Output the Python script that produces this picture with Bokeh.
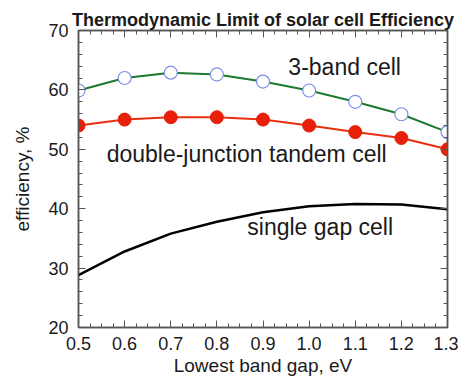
from bokeh.plotting import figure
from bokeh.models import LinearAxis, FixedTicker, PrintfTickFormatter, Range1d, Label
from bokeh.embed import file_html
from bokeh.resources import INLINE

gap = [0.5, 0.6, 0.7, 0.8, 0.9, 1.0, 1.1, 1.2, 1.3]
three_band = [59.9, 62.0, 62.9, 62.6, 61.4, 59.9, 58.0, 55.9, 52.9]
tandem = [54.0, 55.0, 55.4, 55.4, 55.0, 54.0, 52.9, 51.9, 50.0]
single = [28.8, 32.8, 35.8, 37.8, 39.4, 40.4, 40.8, 40.7, 39.9]
x_ticks = [0.5, 0.6, 0.7, 0.8, 0.9, 1.0, 1.1, 1.2, 1.3]
y_ticks = [20, 30, 40, 50, 60, 70]

FONT = "Liberation Sans"
AX = "#555555"
TXT = "#1a1a1a"

p = figure(width=458, height=378, output_backend="svg", toolbar_location=None,
           x_range=Range1d(0.5, 1.3), y_range=Range1d(20, 70),
           min_border_left=78, min_border_right=11, min_border_top=30, min_border_bottom=48)
p.grid.visible = False
p.outline_line_color = AX
p.outline_line_width = 1.5

p.title.text = "Thermodynamic Limit of solar cell Efficiency"
p.title.text_font = FONT
p.title.text_font_size = "18px"
p.title.text_font_style = "bold"
p.title.text_color = TXT
p.title.align = "center"
p.title.offset = 0
p.title.standoff = 1

def style(ax, labels=True):
    ax.axis_line_color = AX
    ax.axis_line_width = 1.5
    ax.major_tick_line_color = AX
    ax.minor_tick_line_color = AX
    ax.major_tick_in = 7
    ax.major_tick_out = 0
    ax.minor_tick_in = 4
    ax.minor_tick_out = 0
    ax.major_label_text_font = FONT
    ax.major_label_text_font_size = "18px"
    ax.major_label_text_color = TXT
    ax.axis_label_text_font = FONT
    ax.axis_label_text_font_size = "19px"
    ax.axis_label_text_font_style = "normal"
    ax.axis_label_text_color = TXT
    if not labels:
        ax.major_label_overrides = {t: "" for t in ax.ticker.ticks}
        ax.major_label_standoff = 0

xt = FixedTicker(ticks=x_ticks, minor_ticks=[0.5 + i * 0.025 for i in range(33)])
yt = FixedTicker(ticks=y_ticks, minor_ticks=[20 + i * 2 for i in range(26)])

p.xaxis.ticker = xt
p.xaxis.formatter = PrintfTickFormatter(format="%.1f")
p.xaxis.axis_label = "Lowest band gap, eV"
p.xaxis.major_label_standoff = 9
p.xaxis.axis_label_standoff = 2
p.yaxis.ticker = yt
p.yaxis.axis_label = "efficiency, %"
p.yaxis.major_label_standoff = 10
p.yaxis.axis_label_standoff = 12
style(p.xaxis[0])
style(p.yaxis[0])

top = LinearAxis(ticker=xt)
right = LinearAxis(ticker=yt)
style(top, False)
style(right, False)
p.add_layout(top, "above")
p.add_layout(right, "right")

p.line(gap, single, line_color="black", line_width=2.5)
p.line(gap, tandem, line_color="#e8300f", line_width=2)
p.scatter(gap, tandem, size=13, fill_color="#e8200a", line_color="#e8200a")
p.line(gap, three_band, line_color="#1b7a2e", line_width=2)
p.scatter(gap, three_band, size=13, fill_color="white", line_color="#7a8fe6", line_width=1.2)

for txt, x, y in [("3-band cell", 0.955, 63.9),
                  ("double-junction tandem cell", 0.561, 49.2),
                  ("single gap cell", 0.866, 37.0)]:
    p.add_layout(Label(x=x, y=y, text=txt, text_font=FONT, text_font_size="23px",
                       text_color=TXT, text_baseline="middle", text_align="left"))

open("out.html", "w").write(file_html(p, INLINE))
